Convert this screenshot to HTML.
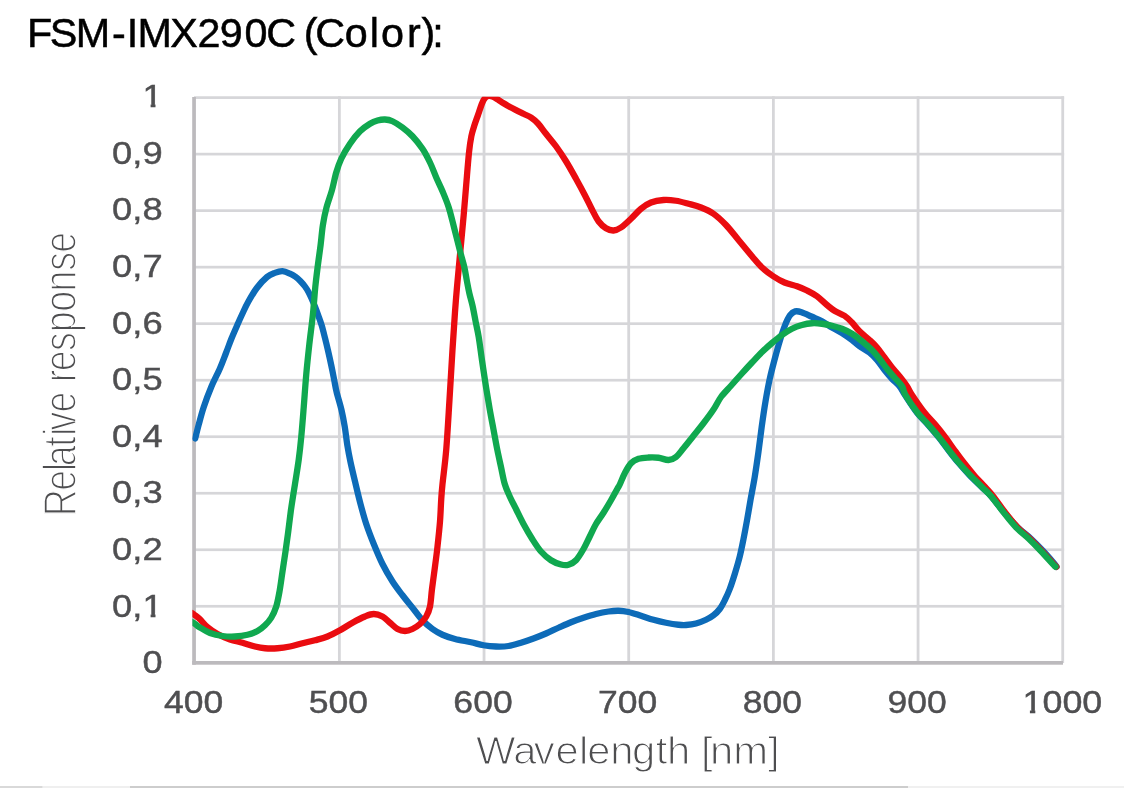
<!DOCTYPE html>
<html lang="en">
<head>
<meta charset="utf-8">
<title>FSM-IMX290C (Color)</title>
<style>
html,body{margin:0;padding:0;background:#fff;}
body{width:1124px;height:788px;position:relative;overflow:hidden;font-family:"Liberation Sans",Arial,Helvetica,sans-serif;}
</style>
</head>
<body>
<svg width="1124" height="788" viewBox="0 0 1124 788" style="position:absolute;left:0;top:0;display:block;will-change:transform">
<rect x="0" y="0" width="1124" height="788" fill="#ffffff"/>
<g fill="#d6d6d9"><rect x="194" y="604.93" width="870.10" height="2.7"/><rect x="194" y="548.41" width="870.10" height="2.7"/><rect x="194" y="491.89" width="870.10" height="2.7"/><rect x="194" y="435.37" width="870.10" height="2.7"/><rect x="194" y="378.85" width="870.10" height="2.7"/><rect x="194" y="322.33" width="870.10" height="2.7"/><rect x="194" y="265.81" width="870.10" height="2.7"/><rect x="194" y="209.29" width="870.10" height="2.7"/><rect x="194" y="152.77" width="870.10" height="2.7"/><rect x="194" y="96.25" width="870.10" height="2.7"/><rect x="337.97" y="96.3" width="2.8" height="566.70"/><rect x="482.64" y="96.3" width="2.8" height="566.70"/><rect x="627.31" y="96.3" width="2.8" height="566.70"/><rect x="771.98" y="96.3" width="2.8" height="566.70"/><rect x="916.65" y="96.3" width="2.8" height="566.70"/><rect x="1061.32" y="96.3" width="2.8" height="566.70"/></g>
<g fill="#bcbabd"><rect x="192.2" y="97" width="3.7" height="567.7"/><rect x="192.2" y="661" width="870.80" height="3.7"/></g>
<defs><clipPath id="plotclip"><rect x="192.4" y="96.8" width="874" height="568"/></clipPath></defs>
<g fill="none" stroke-width="6.3" clip-path="url(#plotclip)" stroke-linecap="round" stroke-linejoin="round">
<path stroke="#0d6bb8" d="M195.20,438.50C195.79,436.17 197.32,429.75 198.75,424.50C200.18,419.25 201.67,413.25 203.75,407.00C205.83,400.75 208.54,393.46 211.25,387.00C213.96,380.54 217.54,373.92 220.00,368.25C222.46,362.58 224.08,357.96 226.00,353.00C227.92,348.04 229.62,343.17 231.50,338.50C233.38,333.83 235.47,329.17 237.30,325.00C239.13,320.83 240.72,317.28 242.50,313.50C244.28,309.72 245.62,306.55 248.00,302.30C250.38,298.05 253.63,292.22 256.80,288.00C259.97,283.78 264.00,279.52 267.00,277.00C270.00,274.48 272.22,273.87 274.80,272.90C277.38,271.93 279.97,271.08 282.50,271.20C285.03,271.32 287.83,272.67 290.00,273.60C292.17,274.53 293.75,275.53 295.50,276.80C297.25,278.07 298.92,279.58 300.50,281.20C302.08,282.82 303.65,284.67 305.00,286.50C306.35,288.33 307.47,290.12 308.60,292.20C309.73,294.28 310.77,296.67 311.80,299.00C312.83,301.33 313.72,303.45 314.80,306.20C315.88,308.95 317.15,312.30 318.30,315.50C319.45,318.70 320.58,321.65 321.70,325.40C322.82,329.15 323.95,333.82 325.00,338.00C326.05,342.18 326.97,346.00 328.00,350.50C329.03,355.00 330.17,360.08 331.20,365.00C332.23,369.92 333.30,375.50 334.20,380.00C335.10,384.50 335.38,387.00 336.60,392.00C337.82,397.00 340.13,404.17 341.50,410.00C342.87,415.83 343.83,421.17 344.80,427.00C345.77,432.83 346.35,439.17 347.30,445.00C348.25,450.83 349.12,455.50 350.50,462.00C351.88,468.50 353.93,477.00 355.60,484.00C357.27,491.00 358.73,497.33 360.50,504.00C362.27,510.67 364.04,517.33 366.25,524.00C368.46,530.67 371.04,537.33 373.75,544.00C376.46,550.67 379.38,557.75 382.50,564.00C385.62,570.25 389.17,576.29 392.50,581.50C395.83,586.71 399.17,590.88 402.50,595.25C405.83,599.62 409.17,603.58 412.50,607.75C415.83,611.92 419.17,616.71 422.50,620.25C425.83,623.79 429.17,626.58 432.50,629.00C435.83,631.42 438.75,633.08 442.50,634.75C446.25,636.42 450.25,637.75 455.00,639.00C459.75,640.25 466.25,641.21 471.00,642.25C475.75,643.29 479.33,644.54 483.50,645.25C487.67,645.96 491.83,646.38 496.00,646.50C500.17,646.62 504.33,646.62 508.50,646.00C512.67,645.38 516.83,644.00 521.00,642.75C525.17,641.50 529.33,640.04 533.50,638.50C537.67,636.96 541.83,635.29 546.00,633.50C550.17,631.71 554.33,629.62 558.50,627.75C562.67,625.88 566.83,623.92 571.00,622.25C575.17,620.58 579.33,619.12 583.50,617.75C587.67,616.38 591.83,615.04 596.00,614.00C600.17,612.96 604.75,612.04 608.50,611.50C612.25,610.96 615.17,610.67 618.50,610.75C621.83,610.83 624.75,611.17 628.50,612.00C632.25,612.83 636.83,614.46 641.00,615.75C645.17,617.04 649.33,618.58 653.50,619.75C657.67,620.92 661.83,621.92 666.00,622.75C670.17,623.58 675.17,624.38 678.50,624.75C681.83,625.12 683.08,625.21 686.00,625.00C688.92,624.79 692.67,624.38 696.00,623.50C699.33,622.62 703.08,621.12 706.00,619.75C708.92,618.38 711.21,617.04 713.50,615.25C715.79,613.46 717.88,611.50 719.75,609.00C721.62,606.50 723.08,603.58 724.75,600.25C726.42,596.92 728.08,593.38 729.75,589.00C731.42,584.62 733.08,579.42 734.75,574.00C736.42,568.58 738.29,562.33 739.75,556.50C741.21,550.67 742.25,545.25 743.50,539.00C744.75,532.75 746.08,525.50 747.25,519.00C748.42,512.50 749.27,506.88 750.50,500.00C751.73,493.12 753.28,485.65 754.60,477.70C755.92,469.75 757.22,460.77 758.40,452.30C759.58,443.83 760.52,435.37 761.70,426.90C762.88,418.43 764.15,409.53 765.50,401.50C766.85,393.47 768.23,385.88 769.80,378.70C771.37,371.52 773.22,364.75 774.90,358.40C776.58,352.05 778.22,346.10 779.90,340.60C781.58,335.10 783.30,329.63 785.00,325.40C786.70,321.17 788.40,317.53 790.10,315.20C791.80,312.87 793.30,311.90 795.20,311.40C797.10,310.90 798.70,311.31 801.50,312.20C804.30,313.09 808.58,315.24 812.00,316.75C815.42,318.26 818.67,319.46 822.00,321.25C825.33,323.04 828.67,325.54 832.00,327.50C835.33,329.46 838.67,330.92 842.00,333.00C845.33,335.08 849.08,337.79 852.00,340.00C854.92,342.21 856.58,344.17 859.50,346.25C862.42,348.33 866.58,350.21 869.50,352.50C872.42,354.79 874.50,357.08 877.00,360.00C879.50,362.92 882.00,366.88 884.50,370.00C887.00,373.12 889.50,376.04 892.00,378.75C894.50,381.46 897.33,383.54 899.50,386.25C901.67,388.96 902.10,390.62 905.00,395.00C907.90,399.38 913.05,407.52 916.90,412.50C920.75,417.48 924.47,420.75 928.10,424.90C931.73,429.05 935.37,433.25 938.70,437.40C942.03,441.55 944.88,445.65 948.10,449.80C951.32,453.95 954.48,458.15 958.00,462.30C961.52,466.45 965.22,470.55 969.20,474.70C973.18,478.85 978.18,483.55 981.90,487.20C985.62,490.85 987.80,492.40 991.50,496.60C995.20,500.80 999.77,507.28 1004.10,512.40C1008.43,517.52 1013.07,522.95 1017.50,527.30C1021.93,531.65 1026.43,534.55 1030.70,538.50C1034.97,542.45 1039.22,546.85 1043.10,551.00C1046.98,555.15 1051.77,560.77 1054.00,563.40C1056.23,566.03 1056.08,566.23 1056.50,566.80"/>
<path stroke="#ea0c10" d="M190.50,612.30C191.25,612.78 193.42,614.03 195.00,615.20C196.58,616.37 197.92,617.30 200.00,619.30C202.08,621.30 204.58,624.75 207.50,627.20C210.42,629.65 213.75,631.95 217.50,634.00C221.25,636.05 225.83,638.04 230.00,639.50C234.17,640.96 238.33,641.58 242.50,642.75C246.67,643.92 251.25,645.58 255.00,646.50C258.75,647.42 261.25,647.96 265.00,648.25C268.75,648.54 273.33,648.54 277.50,648.25C281.67,647.96 285.83,647.33 290.00,646.50C294.17,645.67 298.33,644.29 302.50,643.25C306.67,642.21 310.83,641.38 315.00,640.25C319.17,639.12 323.33,638.17 327.50,636.50C331.67,634.83 335.83,632.54 340.00,630.25C344.17,627.96 348.33,625.04 352.50,622.75C356.67,620.46 361.46,617.96 365.00,616.50C368.54,615.04 370.83,614.00 373.75,614.00C376.67,614.00 379.79,615.04 382.50,616.50C385.21,617.96 387.50,620.67 390.00,622.75C392.50,624.83 395.00,627.62 397.50,629.00C400.00,630.38 402.50,631.00 405.00,631.00C407.50,631.00 410.00,630.17 412.50,629.00C415.00,627.83 417.71,626.08 420.00,624.00C422.29,621.92 424.58,619.42 426.25,616.50C427.92,613.58 429.04,611.08 430.00,606.50C430.96,601.92 431.17,595.67 432.00,589.00C432.83,582.33 434.08,573.58 435.00,566.50C435.92,559.42 436.67,554.00 437.50,546.50C438.33,539.00 439.38,529.42 440.00,521.50C440.62,513.58 440.83,505.25 441.25,499.00C441.67,492.75 441.67,492.25 442.50,484.00C443.33,475.75 445.08,463.58 446.25,449.50C447.42,435.42 448.46,416.17 449.50,399.50C450.54,382.83 451.58,364.08 452.50,349.50C453.42,334.92 454.25,322.42 455.00,312.00C455.75,301.58 456.13,296.92 457.00,287.00C457.87,277.08 459.08,264.50 460.20,252.50C461.32,240.50 462.70,226.25 463.70,215.00C464.70,203.75 465.32,195.42 466.20,185.00C467.08,174.58 468.13,160.67 469.00,152.50C469.87,144.33 470.48,140.58 471.40,136.00C472.32,131.42 473.43,128.40 474.50,125.00C475.57,121.60 476.55,119.18 477.80,115.60C479.05,112.02 480.80,106.43 482.00,103.50C483.20,100.57 483.92,99.27 485.00,98.00C486.08,96.73 487.25,96.15 488.50,95.90C489.75,95.65 491.08,95.98 492.50,96.50C493.92,97.02 495.30,97.95 497.00,99.00C498.70,100.05 500.53,101.47 502.70,102.80C504.87,104.13 507.62,105.70 510.00,107.00C512.38,108.30 514.67,109.43 517.00,110.60C519.33,111.77 521.63,112.82 524.00,114.00C526.37,115.18 528.87,116.12 531.20,117.70C533.53,119.28 535.53,120.83 538.00,123.50C540.47,126.17 543.00,129.96 546.00,133.75C549.00,137.54 552.67,141.67 556.00,146.25C559.33,150.83 562.67,155.83 566.00,161.25C569.33,166.67 572.88,173.12 576.00,178.75C579.12,184.38 582.04,189.79 584.75,195.00C587.46,200.21 589.96,205.62 592.25,210.00C594.54,214.38 596.21,218.21 598.50,221.25C600.79,224.29 603.50,226.71 606.00,228.25C608.50,229.79 611.00,230.62 613.50,230.50C616.00,230.38 618.08,229.46 621.00,227.50C623.92,225.54 627.67,221.88 631.00,218.75C634.33,215.62 637.67,211.46 641.00,208.75C644.33,206.04 647.25,203.96 651.00,202.50C654.75,201.04 659.33,200.29 663.50,200.00C667.67,199.71 671.83,200.12 676.00,200.75C680.17,201.38 684.33,202.62 688.50,203.75C692.67,204.88 696.83,205.83 701.00,207.50C705.17,209.17 709.33,210.83 713.50,213.75C717.67,216.67 721.83,220.62 726.00,225.00C730.17,229.38 734.17,234.79 738.50,240.00C742.83,245.21 748.08,251.67 752.00,256.25C755.92,260.83 758.46,264.17 762.00,267.50C765.54,270.83 769.50,273.75 773.25,276.25C777.00,278.75 780.54,280.83 784.50,282.50C788.46,284.17 793.25,284.92 797.00,286.25C800.75,287.58 803.67,288.83 807.00,290.50C810.33,292.17 813.67,293.83 817.00,296.25C820.33,298.67 824.08,302.58 827.00,305.00C829.92,307.42 831.58,308.96 834.50,310.75C837.42,312.54 841.58,313.79 844.50,315.75C847.42,317.71 849.50,319.92 852.00,322.50C854.50,325.08 856.58,328.33 859.50,331.25C862.42,334.17 866.58,337.29 869.50,340.00C872.42,342.71 874.50,344.58 877.00,347.50C879.50,350.42 882.00,354.17 884.50,357.50C887.00,360.83 889.50,364.38 892.00,367.50C894.50,370.62 897.00,373.12 899.50,376.25C902.00,379.38 904.92,383.12 907.00,386.25C909.08,389.38 909.10,390.62 912.00,395.00C914.90,399.38 920.50,407.52 924.40,412.50C928.30,417.48 931.90,420.75 935.40,424.90C938.90,429.05 942.27,433.25 945.40,437.40C948.53,441.55 951.18,445.65 954.20,449.80C957.22,453.95 960.25,458.15 963.50,462.30C966.75,466.45 970.08,470.55 973.70,474.70C977.32,478.85 981.90,483.55 985.20,487.20C988.50,490.85 990.18,492.40 993.50,496.60C996.82,500.80 1001.10,507.28 1005.10,512.40C1009.10,517.52 1013.40,522.95 1017.50,527.30C1021.60,531.65 1025.67,534.55 1029.70,538.50C1033.73,542.45 1037.82,546.85 1041.70,551.00C1045.58,555.15 1050.57,560.77 1053.00,563.40C1055.43,566.03 1055.75,566.23 1056.30,566.80"/>
<path stroke="#10a84f" d="M190.50,621.20C191.25,621.65 193.42,622.85 195.00,623.90C196.58,624.95 197.50,625.98 200.00,627.50C202.50,629.02 206.25,631.58 210.00,633.00C213.75,634.42 218.33,635.42 222.50,636.00C226.67,636.58 230.83,636.71 235.00,636.50C239.17,636.29 243.75,635.67 247.50,634.75C251.25,633.83 254.58,632.58 257.50,631.00C260.42,629.42 262.71,627.46 265.00,625.25C267.29,623.04 269.38,620.88 271.25,617.75C273.12,614.62 274.88,610.88 276.25,606.50C277.62,602.12 278.46,597.33 279.50,591.50C280.54,585.67 281.50,578.17 282.50,571.50C283.50,564.83 284.54,558.17 285.50,551.50C286.46,544.83 287.38,538.17 288.25,531.50C289.12,524.83 289.96,517.33 290.75,511.50C291.54,505.67 292.29,501.08 293.00,496.50C293.71,491.92 294.04,490.17 295.00,484.00C295.96,477.83 297.71,467.33 298.75,459.50C299.79,451.67 300.42,445.75 301.25,437.00C302.08,428.25 302.92,417.42 303.75,407.00C304.58,396.58 305.32,384.92 306.25,374.50C307.18,364.08 308.19,354.50 309.30,344.50C310.41,334.50 311.90,324.08 312.90,314.50C313.90,304.92 314.47,295.25 315.30,287.00C316.13,278.75 317.02,272.00 317.90,265.00C318.78,258.00 319.77,251.67 320.60,245.00C321.43,238.33 321.92,231.25 322.90,225.00C323.88,218.75 324.98,213.33 326.50,207.50C328.02,201.67 330.38,195.83 332.00,190.00C333.62,184.17 334.71,177.71 336.25,172.50C337.79,167.29 338.96,163.54 341.25,158.75C343.54,153.96 346.88,148.33 350.00,143.75C353.12,139.17 356.67,134.58 360.00,131.25C363.33,127.92 367.08,125.54 370.00,123.75C372.92,121.96 375.00,121.21 377.50,120.50C380.00,119.79 382.50,119.38 385.00,119.50C387.50,119.62 389.58,119.92 392.50,121.25C395.42,122.58 399.17,125.00 402.50,127.50C405.83,130.00 409.17,132.71 412.50,136.25C415.83,139.79 419.58,144.38 422.50,148.75C425.42,153.12 427.71,157.71 430.00,162.50C432.29,167.29 434.17,172.71 436.25,177.50C438.33,182.29 440.42,186.25 442.50,191.25C444.58,196.25 446.78,201.29 448.75,207.50C450.72,213.71 452.43,221.25 454.30,228.50C456.18,235.75 458.33,244.58 460.00,251.00C461.67,257.42 463.15,262.00 464.30,267.00C465.45,272.00 466.05,276.58 466.90,281.00C467.75,285.42 468.45,289.33 469.40,293.50C470.35,297.67 471.55,301.25 472.60,306.00C473.65,310.75 474.68,316.83 475.70,322.00C476.72,327.17 477.61,330.33 478.70,337.00C479.79,343.67 481.03,353.67 482.25,362.00C483.47,370.33 484.75,379.08 486.00,387.00C487.25,394.92 488.50,402.42 489.75,409.50C491.00,416.58 492.25,422.83 493.50,429.50C494.75,436.17 496.00,443.25 497.25,449.50C498.50,455.75 499.75,461.25 501.00,467.00C502.25,472.75 503.29,479.08 504.75,484.00C506.21,488.92 507.88,492.33 509.75,496.50C511.62,500.67 513.71,504.42 516.00,509.00C518.29,513.58 520.79,519.00 523.50,524.00C526.21,529.00 529.33,534.42 532.25,539.00C535.17,543.58 537.88,547.96 541.00,551.50C544.12,555.04 547.67,558.08 551.00,560.25C554.33,562.42 558.08,563.75 561.00,564.50C563.92,565.25 566.00,565.46 568.50,564.75C571.00,564.04 573.50,562.88 576.00,560.25C578.50,557.62 581.21,552.96 583.50,549.00C585.79,545.04 587.67,540.67 589.75,536.50C591.83,532.33 593.71,527.96 596.00,524.00C598.29,520.04 601.00,516.71 603.50,512.75C606.00,508.79 608.71,504.21 611.00,500.25C613.29,496.29 615.75,491.71 617.25,489.00C618.75,486.29 618.75,486.62 620.00,484.00C621.25,481.38 622.92,476.71 624.75,473.25C626.58,469.79 628.71,465.67 631.00,463.25C633.29,460.83 635.58,459.71 638.50,458.75C641.42,457.79 645.17,457.67 648.50,457.50C651.83,457.33 655.17,457.33 658.50,457.75C661.83,458.17 665.58,460.12 668.50,460.00C671.42,459.88 673.50,458.96 676.00,457.00C678.50,455.04 680.58,451.79 683.50,448.25C686.42,444.71 690.17,439.92 693.50,435.75C696.83,431.58 700.17,427.62 703.50,423.25C706.83,418.88 710.58,413.88 713.50,409.50C716.42,405.12 718.08,400.96 721.00,397.00C723.92,393.04 727.67,389.50 731.00,385.75C734.33,382.00 737.50,378.38 741.00,374.50C744.50,370.62 748.50,366.25 752.00,362.50C755.50,358.75 758.67,355.25 762.00,352.00C765.33,348.75 768.67,345.83 772.00,343.00C775.33,340.17 778.67,337.38 782.00,335.00C785.33,332.62 788.67,330.42 792.00,328.75C795.33,327.08 798.67,325.92 802.00,325.00C805.33,324.08 808.67,323.46 812.00,323.25C815.33,323.04 818.67,323.33 822.00,323.75C825.33,324.17 828.67,324.92 832.00,325.75C835.33,326.58 838.67,327.42 842.00,328.75C845.33,330.08 848.67,331.67 852.00,333.75C855.33,335.83 858.67,338.54 862.00,341.25C865.33,343.96 869.08,347.08 872.00,350.00C874.92,352.92 877.00,355.62 879.50,358.75C882.00,361.88 884.50,365.62 887.00,368.75C889.50,371.88 892.00,374.58 894.50,377.50C897.00,380.42 900.17,383.33 902.00,386.25C903.83,389.17 902.93,390.62 905.50,395.00C908.07,399.38 913.55,407.52 917.40,412.50C921.25,417.48 924.97,420.75 928.60,424.90C932.23,429.05 935.87,433.25 939.20,437.40C942.53,441.55 945.38,445.65 948.60,449.80C951.82,453.95 954.98,458.15 958.50,462.30C962.02,466.45 965.75,470.55 969.70,474.70C973.65,478.85 978.57,483.55 982.20,487.20C985.83,490.85 987.93,492.40 991.50,496.60C995.07,500.80 999.52,507.28 1003.60,512.40C1007.68,517.52 1011.85,522.95 1016.00,527.30C1020.15,531.65 1024.35,534.55 1028.50,538.50C1032.65,542.45 1036.95,546.85 1040.90,551.00C1044.85,555.15 1049.77,560.77 1052.20,563.40C1054.63,566.03 1054.95,566.23 1055.50,566.80"/>
</g>
<text x="27.07 49.79 75.70 111.97 126.81 137.40 170.15 197.42 219.73 244.47 266.18 284.92 303.66 315.18 344.77 369.85 380.97 407.04 421.48 432.21" y="47.3" font-family="Liberation Sans, Arial, Helvetica, sans-serif" font-size="41.3" fill="#000000" stroke="#000000" stroke-width="0.5">FSM-IMX290C (Color):</text>
<g font-family="Liberation Sans, Arial, Helvetica, sans-serif" font-size="32" fill="#4f4f51" stroke="#4f4f51" stroke-width="0.45"><text transform="translate(162.6,673.20) scale(1.13,1)" text-anchor="end">0</text><text x="112.10" y="616.59" textLength="50.50" lengthAdjust="spacingAndGlyphs">0,1</text><text x="112.10" y="559.98" textLength="50.50" lengthAdjust="spacingAndGlyphs">0,2</text><text x="112.10" y="503.37" textLength="50.50" lengthAdjust="spacingAndGlyphs">0,3</text><text x="112.10" y="446.76" textLength="50.50" lengthAdjust="spacingAndGlyphs">0,4</text><text x="112.10" y="390.15" textLength="50.50" lengthAdjust="spacingAndGlyphs">0,5</text><text x="112.10" y="333.54" textLength="50.50" lengthAdjust="spacingAndGlyphs">0,6</text><text x="112.10" y="276.93" textLength="50.50" lengthAdjust="spacingAndGlyphs">0,7</text><text x="112.10" y="220.32" textLength="50.50" lengthAdjust="spacingAndGlyphs">0,8</text><text x="112.10" y="163.71" textLength="50.50" lengthAdjust="spacingAndGlyphs">0,9</text><text transform="translate(162.6,107.10) scale(1.13,1)" text-anchor="end">1</text><text x="164.05" y="713" textLength="59.30" lengthAdjust="spacingAndGlyphs">400</text><text x="308.72" y="713" textLength="59.30" lengthAdjust="spacingAndGlyphs">500</text><text x="453.39" y="713" textLength="59.30" lengthAdjust="spacingAndGlyphs">600</text><text x="598.06" y="713" textLength="59.30" lengthAdjust="spacingAndGlyphs">700</text><text x="742.73" y="713" textLength="59.30" lengthAdjust="spacingAndGlyphs">800</text><text x="887.40" y="713" textLength="59.30" lengthAdjust="spacingAndGlyphs">900</text><text x="1022.52" y="713" textLength="79.80" lengthAdjust="spacingAndGlyphs">1000</text></g>
<g fill="#ffffff"><rect x="142" y="103.40" width="8.60" height="5.2"/><rect x="155.5" y="103.40" width="8.50" height="5.2"/><rect x="142" y="612.89" width="8.60" height="5.2"/><rect x="155.5" y="612.89" width="8.50" height="5.2"/><rect x="1021" y="709.30" width="8.90" height="5.2"/><rect x="1035.3" y="709.30" width="7.00" height="5.2"/></g>
<text transform="translate(0,763.7) scale(1.09,1)" x="436.72 470.98 489.67 509.54 531.28 538.76 559.84 579.75 601.67 612.04 627.63 643.22 651.50 672.62 704.55" y="0" font-family="Liberation Sans, Arial, Helvetica, sans-serif" font-size="38.4" fill="#4e4e50" stroke="#ffffff" stroke-width="1.15" paint-order="fill stroke">Wavelength [nm]</text>
<text transform="translate(75.7,512) rotate(-90) scale(0.8,1)" x="-5.18 26.48 51.08 57.24 81.54 94.98 102.00 124.48 143.30 162.13 175.98 201.32 224.59 250.31 275.52 301.70 323.98" y="0" font-family="Liberation Sans, Arial, Helvetica, sans-serif" font-size="47.0" fill="#4e4e50" stroke="#ffffff" stroke-width="1.65" paint-order="fill stroke">Relative response</text>
<rect x="0" y="786" width="42.7" height="2" fill="#d9d9d9"/><rect x="42.7" y="786" width="87.3" height="2" fill="#efefef"/><rect x="130" y="786" width="778" height="2" fill="#cdcdcd"/><rect x="908" y="786" width="216" height="2" fill="#f0f0f0"/>
</svg>
</body>
</html>
